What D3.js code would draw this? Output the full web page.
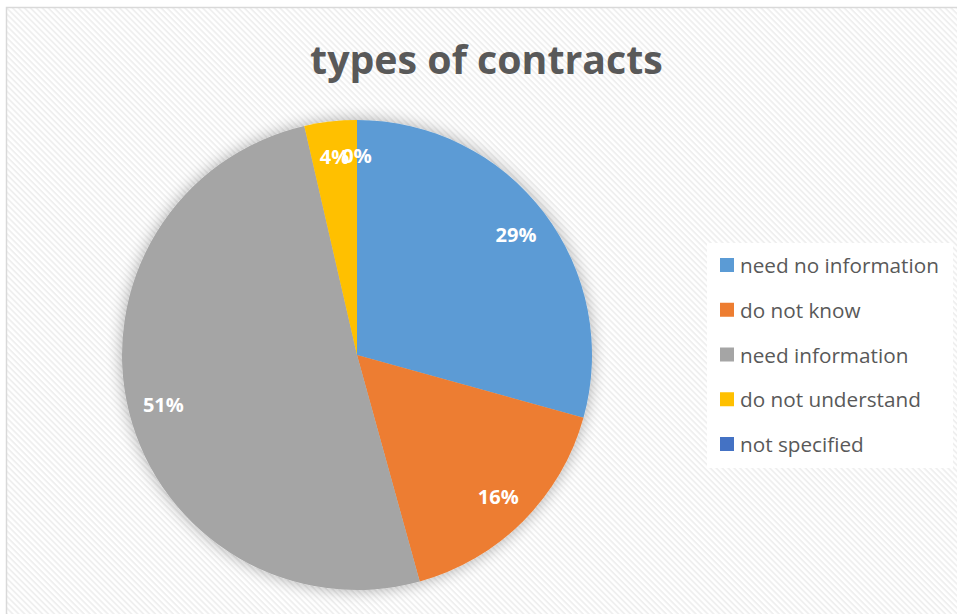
<!DOCTYPE html>
<html>
<head>
<meta charset="utf-8">
<script src="https://cdn.jsdelivr.net/npm/d3@7"></script>
<style>
  html, body { margin: 0; padding: 0; background: #fff; }
  svg { display: block; }
  text { font-family: "Open Sans", "Liberation Sans", sans-serif; }
</style>
</head>
<body>
<svg width="957" height="614"></svg>
<script>
const categories = ["need no information", "do not know", "need information", "do not understand", "not specified"];
const values = [29.3, 16.4, 50.7, 3.6, 0];
const colors = ["#5B9BD5", "#ED7D31", "#A5A5A5", "#FFC000", "#4472C4"];
const title = "types of contracts";

const W = 957, H = 614;
const CX = 357, CY = 355, R = 235;

const svg = d3.select("svg");
const defs = svg.append("defs");

// fine diagonal hatch like the Excel chart area fill
const pat = defs.append("pattern")
  .attr("id", "hatch")
  .attr("patternUnits", "userSpaceOnUse")
  .attr("width", 4.2).attr("height", 4.2)
  .attr("patternTransform", "rotate(45)");
pat.append("rect").attr("width", 4.2).attr("height", 4.2).attr("fill", "#fff");
pat.append("rect").attr("width", 4.2).attr("height", 1.8).attr("fill", "#efefef");

const shadow = defs.append("filter")
  .attr("id", "glow")
  .attr("x", "-20%").attr("y", "-20%")
  .attr("width", "140%").attr("height", "140%");
shadow.append("feGaussianBlur").attr("in", "SourceAlpha").attr("stdDeviation", 8).attr("result", "b");
shadow.append("feComponentTransfer").attr("in", "b").attr("result", "s")
  .append("feFuncA").attr("type", "linear").attr("slope", 0.32);
const merge = shadow.append("feMerge");
merge.append("feMergeNode").attr("in", "s");
merge.append("feMergeNode").attr("in", "SourceGraphic");

// chart area
svg.append("rect")
  .attr("x", 6.5).attr("y", 7.5)
  .attr("width", W + 10).attr("height", H + 10)
  .attr("fill", "url(#hatch)")
  .attr("stroke", "#d9d9d9").attr("stroke-width", 1.5);

// title, fitted to the reference width
const t = svg.append("text")
  .attr("x", 486.5).attr("y", 74)
  .attr("text-anchor", "middle")
  .attr("font-weight", "bold")
  .attr("fill", "#595959")
  .attr("font-size", 40)
  .text(title);
t.attr("font-size", 40 * 353 / t.node().getComputedTextLength());

// pie
const pie = d3.pie().sort(null).value(d => d)(values);
const arc = d3.arc().innerRadius(0).outerRadius(R);
const labelArc = d3.arc().innerRadius(R * 0.85).outerRadius(R * 0.85);
const total = d3.sum(values);

const g = svg.append("g").attr("transform", `translate(${CX},${CY})`);
g.append("g").attr("filter", "url(#glow)")
  .selectAll("path")
  .data(pie)
  .join("path")
  .attr("d", arc)
  .attr("fill", (d, i) => colors[i]);

g.selectAll(".lbl")
  .data(pie)
  .join("text")
  .attr("class", "lbl")
  .attr("transform", d => {
    const [x, y] = labelArc.centroid(d);
    return `translate(${x},${y})`;
  })
  .attr("text-anchor", "middle")
  .attr("dominant-baseline", "central")
  .attr("font-weight", "bold")
  .attr("font-size", 20)
  .attr("fill", "#fff")
  .text(d => Math.round(d.data / total * 100) + "%");

// legend
const lg = svg.append("g");
lg.append("rect")
  .attr("x", 707).attr("y", 243)
  .attr("width", 246).attr("height", 225)
  .attr("fill", "#fff");

const ly = d3.scalePoint().domain(categories).range([265, 444]);
const items = lg.selectAll(".item")
  .data(categories)
  .join("g")
  .attr("class", "item")
  .attr("transform", d => `translate(720,${ly(d)})`);
items.append("rect")
  .attr("x", 0).attr("y", -7)
  .attr("width", 14).attr("height", 14)
  .attr("fill", (d, i) => colors[i]);
const lt = items.append("text")
  .attr("x", 20).attr("y", 0)
  .attr("dominant-baseline", "central")
  .attr("fill", "#595959")
  .attr("font-size", 20)
  .text(d => d);
const w0 = lt.filter((d, i) => i === 0).node().getComputedTextLength();
lt.attr("font-size", 20 * 199 / w0);
</script>
</body>
</html>
